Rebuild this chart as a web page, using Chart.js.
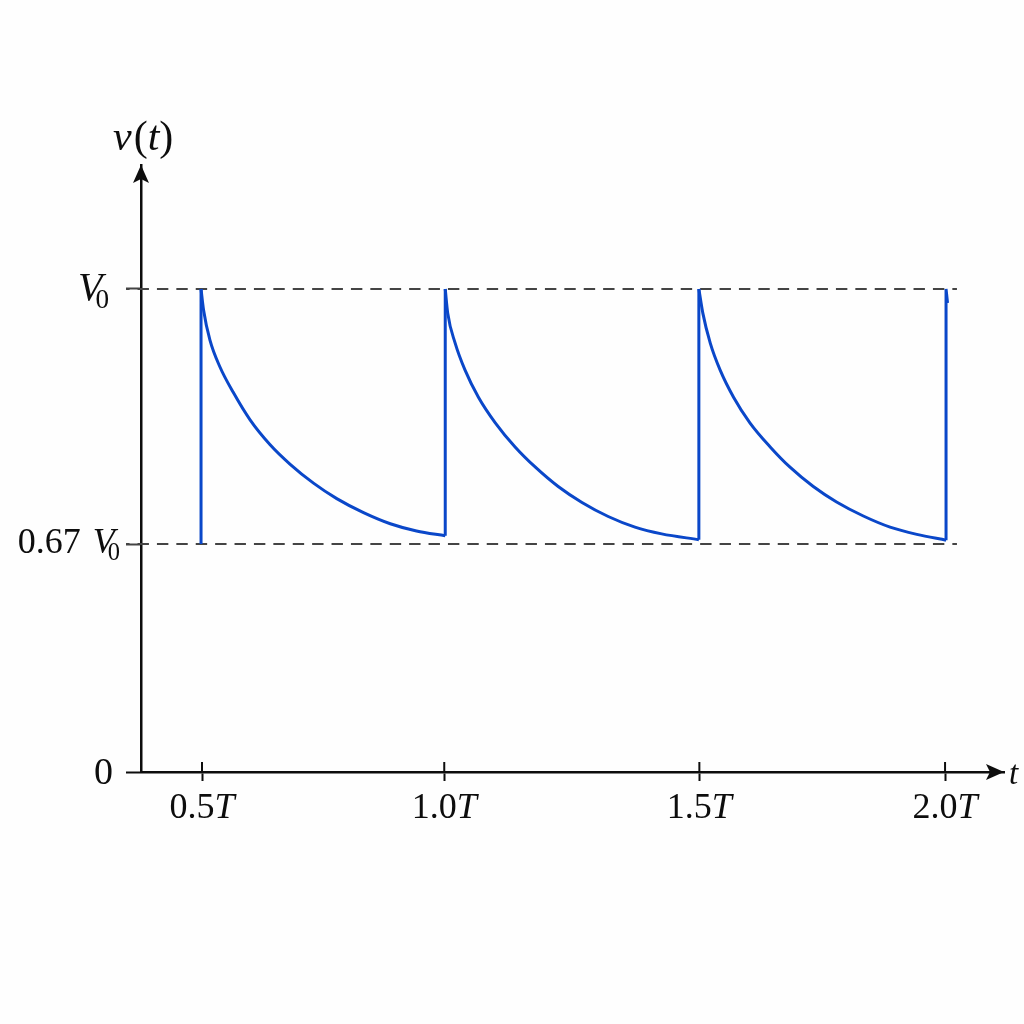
<!DOCTYPE html>
<html>
<head>
<meta charset="utf-8">
<title>v(t)</title>
<script src="https://cdn.jsdelivr.net/npm/chart.js@4"></script>
<style>
    html, body { margin: 0; padding: 0; background: #fefefe; }
    canvas { display: block; }
</style>
</head>
<body>
<canvas id="chartVoltage" width="1024" height="1024"></canvas>
<script>
// Values. The original is not drawn to scale, so the
// tick positions below are where the ticks really sit, not their nominal value.
var xTickValues = [0.5, 0.989, 1.504, 2.0];
var xTickLabels = ['0.5T', '1.0T', '1.5T', '2.0T'];
var yTickValues = [0, 0.472, 1];
var yTickLabels = ['0', '0.67 V0', 'V0'];

// decay of each cycle
var cycle1T = [0.498, 0.503, 0.516, 0.536, 0.563, 0.597, 0.637, 0.678, 0.725, 0.772, 0.826, 0.880, 0.933, 0.991];
var cycle1V = [1.0, 0.957, 0.894, 0.839, 0.786, 0.729, 0.678, 0.637, 0.598, 0.566, 0.537, 0.514, 0.499, 0.489];
var cycle2T = [0.991, 0.996, 1.011, 1.031, 1.058, 1.092, 1.132, 1.173, 1.219, 1.267, 1.320, 1.374, 1.428, 1.503];
var cycle2V = [1.0, 0.950, 0.888, 0.832, 0.776, 0.723, 0.673, 0.631, 0.591, 0.558, 0.529, 0.507, 0.493, 0.481];
var cycle3T = [1.503, 1.511, 1.526, 1.546, 1.573, 1.606, 1.647, 1.687, 1.734, 1.781, 1.835, 1.889, 1.943, 2.002];
var cycle3V = [1.0, 0.950, 0.888, 0.832, 0.776, 0.723, 0.673, 0.631, 0.591, 0.559, 0.530, 0.507, 0.492, 0.480];

// the vertical rises, and the small stub at the last peak
var riseT = [0.498, 0.498, 0.991, 0.991, 1.503, 1.503, 2.002, 2.002, 2.005];
var riseV = [0.472, 1.0, 1.0, 0.489, 1.0, 0.481, 0.480, 1.0, 0.971];
var riseBreaks = [2, 4, 6];

var refLevels = [1, 0.472];
var refStart = 0.3466;
var refEnd = 2.024;

var xMin = 0.3768;
var xMax = 2.119;
var yMax = 1.2567;

var SERIF = '"Liberation Serif", "DejaVu Serif", serif';
var INK = '#0d0d0d';
var DASH = '#444444';
var BLUE = '#0a47c9';

function fontOf(style, size) {
    return (style ? style + ' ' : '') + size + 'px ' + SERIF;
}

// runs: [{text, italic, sub}], drawn one after the other
function runsWidth(ctx, runs, size) {
    var w = 0;
    runs.forEach(function(r) {
        ctx.font = fontOf(r.italic ? 'italic' : '', r.sub ? size * 0.68 : size);
        w += ctx.measureText(r.text).width + (r.gap || 0);
    });
    return w;
}

function drawRuns(ctx, runs, x, y, size) {
    runs.forEach(function(r) {
        var s = r.sub ? size * 0.68 : size;
        ctx.font = fontOf(r.italic ? 'italic' : '', s);
        ctx.fillText(r.text, x, r.sub ? y + size * 0.19 : y);
        x += ctx.measureText(r.text).width + (r.gap || 0);
    });
}

function xLabelRuns(label) {
    return [
        { text: label.slice(0, -1) },
        { text: label.slice(-1), italic: true }
    ];
}

function yLabelRuns(label) {
    var m = label.match(/^(.*?)V0$/);
    if (!m) return [{ text: label }];
    return [
        { text: m[1], gap: 3 },
        { text: 'V', italic: true, gap: -7 },
        { text: '0', sub: true }
    ];
}

var yLabelSizes = [38, 36, 40];
var yLabelRight = [113, 120, 109];
var yLabelDrop = [12, 9, 11];

var axisDecor = {
    id: 'axisDecor',
    afterDraw: function(chart) {
        var ctx = chart.ctx;
        var xs = chart.scales.x;
        var ys = chart.scales.y;
        var area = chart.chartArea;
        ctx.save();
        ctx.fillStyle = INK;
        ctx.strokeStyle = INK;
        ctx.textBaseline = 'alphabetic';

        // tick marks also stick up above the x axis
        ctx.lineWidth = 2;
        xTickValues.forEach(function(v) {
            var px = xs.getPixelForValue(v);
            ctx.beginPath();
            ctx.moveTo(px, area.bottom - 10);
            ctx.lineTo(px, area.bottom);
            ctx.stroke();
        });

        // arrow heads
        ctx.beginPath();
        ctx.moveTo(area.left, area.top);
        ctx.lineTo(area.left + 8, area.top + 18);
        ctx.lineTo(area.left, area.top + 14);
        ctx.lineTo(area.left - 8, area.top + 18);
        ctx.closePath();
        ctx.fill();
        ctx.beginPath();
        ctx.moveTo(area.right, area.bottom);
        ctx.lineTo(area.right - 18, area.bottom - 8);
        ctx.lineTo(area.right - 14, area.bottom);
        ctx.lineTo(area.right - 18, area.bottom + 8);
        ctx.closePath();
        ctx.fill();

        // tick labels
        var xSize = 36;
        xTickLabels.forEach(function(label, i) {
            var runs = xLabelRuns(label);
            var w = runsWidth(ctx, runs, xSize);
            drawRuns(ctx, runs, xs.getPixelForValue(xTickValues[i]) - w / 2, area.bottom + 46, xSize);
        });
        yTickLabels.forEach(function(label, i) {
            var size = yLabelSizes[i];
            var runs = yLabelRuns(label);
            var w = runsWidth(ctx, runs, size);
            drawRuns(ctx, runs, yLabelRight[i] - w, ys.getPixelForValue(yTickValues[i]) + yLabelDrop[i], size);
        });

        // axis names
        drawRuns(ctx, [
            { text: 'v', italic: true, gap: 2 },
            { text: '(' },
            { text: 't', italic: true },
            { text: ')' }
        ], area.left - 28, area.top - 15, 42);
        drawRuns(ctx, [{ text: 't', italic: true }], area.right + 5, area.bottom + 12, 33);
        ctx.restore();
    }
};

function toPoints(ts, vs) {
    return ts.map(function(t, i) { return { x: t, y: vs[i] }; });
}

var refDatasets = refLevels.map(function(level) {
    return {
        data: [{ x: refStart, y: level }, { x: refEnd, y: level }],
        borderColor: DASH,
        borderWidth: 2,
        borderDash: [11.4, 8],
        borderDashOffset: 7.9,
        pointRadius: 0,
        clip: false,
        order: 2
    };
});

var cycleDatasets = [[cycle1T, cycle1V], [cycle2T, cycle2V], [cycle3T, cycle3V]].map(function(c) {
    return {
        data: toPoints(c[0], c[1]),
        borderColor: BLUE,
        borderWidth: 3,
        pointRadius: 0,
        cubicInterpolationMode: 'monotone',
        clip: false,
        order: 1
    };
});

// rises go in one dataset, broken with null points between them
var risePoints = [];
toPoints(riseT, riseV).forEach(function(p, i) {
    if (riseBreaks.indexOf(i) >= 0) risePoints.push({ x: p.x, y: null });
    risePoints.push(p);
});
var riseDataset = {
    data: risePoints,
    borderColor: BLUE,
    borderWidth: 3,
    pointRadius: 0,
    tension: 0,
    spanGaps: false,
    clip: false,
    order: 1
};

new Chart(document.getElementById('chartVoltage'), {
    type: 'line',
    data: { datasets: refDatasets.concat(cycleDatasets, [riseDataset]) },
    options: {
        responsive: false,
        animation: false,
        devicePixelRatio: 1,
        layout: { padding: { left: 126, right: 20, top: 165, bottom: 243 } },
        plugins: { legend: { display: false }, title: { display: false }, tooltip: { enabled: false } },
        scales: {
            x: {
                type: 'linear',
                min: xMin,
                max: xMax,
                afterBuildTicks: function(axis) {
                    axis.ticks = xTickValues.map(function(v) { return { value: v }; });
                },
                ticks: { display: false },
                grid: { drawOnChartArea: false, drawTicks: true, tickLength: 9, tickColor: INK, tickWidth: 2 },
                border: { color: INK, width: 2.5 }
            },
            y: {
                type: 'linear',
                min: 0,
                max: yMax,
                afterBuildTicks: function(axis) {
                    axis.ticks = yTickValues.map(function(v) { return { value: v }; });
                },
                ticks: { display: false },
                grid: {
                    drawOnChartArea: false,
                    drawTicks: true,
                    tickLength: 15,
                    tickWidth: 2,
                    tickColor: function(c) { return c.tick && c.tick.value === 0 ? INK : DASH; }
                },
                border: { color: INK, width: 2.5 }
            }
        }
    },
    plugins: [axisDecor]
});
</script>
</body>
</html>
